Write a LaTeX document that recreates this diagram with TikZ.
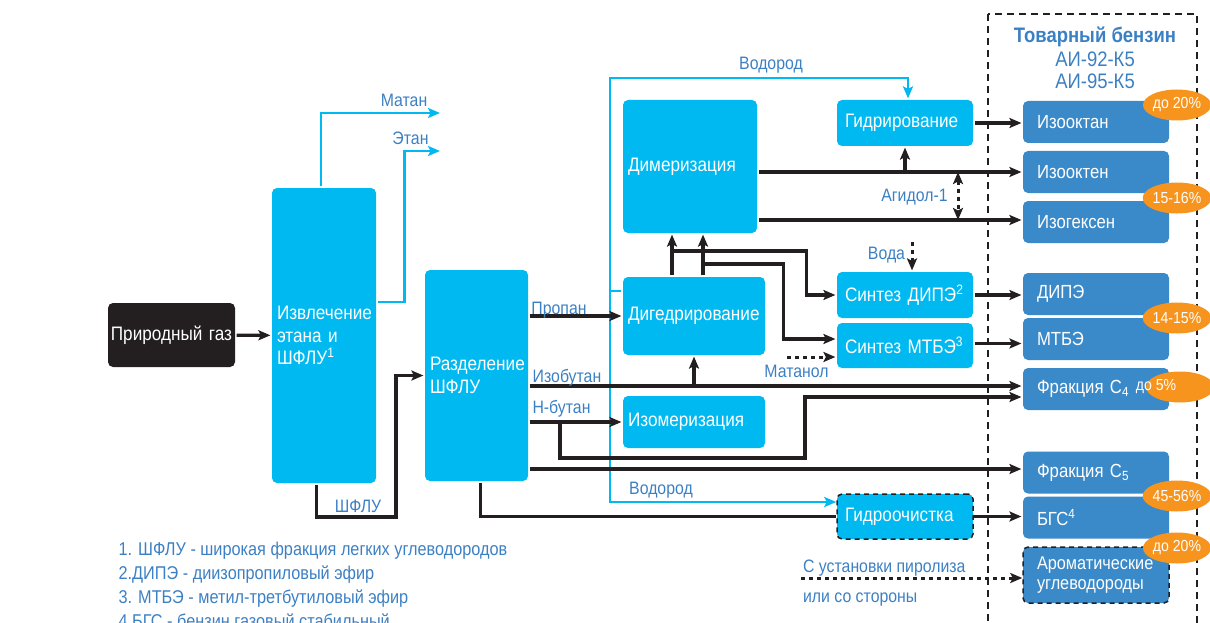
\documentclass[tikz,border=0pt]{standalone}
\usepackage{fontspec}
\setmainfont[FakeStretch=0.88]{Liberation Sans}
\usetikzlibrary{arrows.meta,shapes.geometric}
\definecolor{goluboy}{RGB}{0,185,241}
\definecolor{siniy}{RGB}{58,137,201}
\definecolor{tekst}{RGB}{60,128,196}
\definecolor{oranzh}{RGB}{247,148,29}
\definecolor{chern}{RGB}{35,31,32}

\begin{document}
\begin{tikzpicture}[x=1pt,y=-1pt,line width=3.2pt,>={Stealth[length=12pt,width=10pt,inset=2.5pt]}]
    \tikzset{etap/.style={fill=goluboy, rounded corners=5pt, text=white, align=left,
        inner xsep=5pt, inner ysep=0pt, font=\fontsize{19.5}{22.5}\selectfont}}
    \tikzset{produkt/.style={etap, fill=siniy, inner xsep=14pt, text width=118pt, minimum height=42pt,
        font=\fontsize{19}{21}\selectfont}}
    \tikzset{dolya/.style={ellipse, fill=oranzh, text=white, inner sep=0pt,
        minimum width=68pt, minimum height=31pt, font=\fontsize{16}{16}\selectfont}}
    \tikzset{podpis/.style={text=tekst, inner sep=0pt, anchor=base, font=\fontsize{18}{22}\selectfont}}
    \tikzset{potok/.style={draw=chern, ->}}
    \tikzset{liniya/.style={draw=chern}}
    \tikzset{vodorod/.style={draw=goluboy, line width=2.6pt}}
    \tikzset{vstrelka/.style={vodorod, ->}}
    \tikzset{punktir/.style={dash pattern=on 5pt off 4pt}}
    \useasboundingbox (0,0) rectangle (1210,623);

    % товарный бензин
    \draw[chern, line width=1.5pt, dash pattern=on 7pt off 5pt] (988,14) rectangle (1197,640);
    \node[podpis, font=\bfseries\fontsize{21}{24}\selectfont] (tovar) at (1095,43) {Товарный бензин};
    \node[podpis, font=\fontsize{21}{24}\selectfont] (ai92) at (1095,67) {АИ-92-К5};
    \node[podpis, font=\fontsize{21}{24}\selectfont] (ai95) at (1095,89) {АИ-95-К5};

    % установки
    \node[etap, fill=chern, align=center, inner xsep=1pt, text width=125pt, minimum height=64pt] (gaz) at (171.5,335) {Природный газ};
    \node[etap, text width=94pt, minimum height=295pt] (izvl) at (324,335.5) {Извлечение\\этана и\\ШФЛУ\textsuperscript{1}};
    \node[etap, text width=93pt, minimum height=211pt] (razd) at (476.5,375.5) {Разделение\\ШФЛУ};
    \node[etap, text width=124pt, minimum height=133pt] (dimer) at (690,166.5) {Димеризация};
    \node[etap, text width=132pt, minimum height=78pt] (diged) at (694,316) {Дигедрирование};
    \node[etap, text width=132pt, minimum height=52pt] (izomer) at (694,422) {Изомеризация};
    \node[etap, inner xsep=8pt, text width=120pt, minimum height=46pt] (gidr) at (905,123) {Гидрирование};
    \node[etap, inner xsep=8pt, text width=120pt, minimum height=46pt] (sdipe) at (905,295) {Синтез ДИПЭ\textsuperscript{2}};
    \node[etap, inner xsep=8pt, text width=120pt, minimum height=45pt] (smtbe) at (905,345.5) {Синтез МТБЭ\textsuperscript{3}};
    \node[etap, inner xsep=8pt, text width=120pt, minimum height=45pt, draw=chern, line width=1.5pt, punktir] (gochist) at (905,516.5) {Гидроочистка};

    % продукты
    \node[produkt] (izooktan) at (1096,122) {Изооктан};
    \node[produkt] (izookten) at (1096,172) {Изооктен};
    \node[produkt] (izogeks) at (1096,222) {Изогексен};
    \node[produkt] (pdipe) at (1096,294) {ДИПЭ};
    \node[produkt] (pmtbe) at (1096,339) {МТБЭ};
    \node[produkt] (fc4) at (1096,389) {Фракция C\textsubscript{4}};
    \node[produkt] (fc5) at (1096,472.5) {Фракция C\textsubscript{5}};
    \node[produkt] (bgs) at (1096,517.5) {БГС\textsuperscript{4}};
    \node[produkt, minimum height=56pt, font=\fontsize{18.5}{20}\selectfont, draw=chern, line width=1.5pt, punktir] (arom) at (1096,575) {Ароматические\\углеводороды};

    % доли
    \node[dolya] (d1) at (1177,105) {до 20\%};
    \node[dolya] (d2) at (1177,198) {15-16\%};
    \node[dolya] (d3) at (1177,318) {14-15\%};
    \node[dolya] (d4) at (1180,387) {};
    \node[text=white, inner sep=0pt, font=\fontsize{16}{16}\selectfont] (d4t) at (1156,387) {до 5\%};
    \node[dolya] (d5) at (1177,496) {45-56\%};
    \node[dolya] (d6) at (1177,548) {до 20\%};

    % точки
    \coordinate (metan) at (440,113);
    \coordinate (etan) at (440,151);
    \coordinate (h2) at (610,291);
    \coordinate (c4a) at ([yshift=3pt]fc4.west);
    \coordinate (c4b) at ([yshift=-8pt]fc4.west);
    \coordinate (c5a) at ([yshift=3.5pt]fc5.west);
    \coordinate (ig) at ([yshift=2pt]izogeks.west);
    \coordinate (m1) at ([yshift=6.5pt]smtbe.west);
    \coordinate (d1x) at ([xshift=-22pt]diged.north);
    \coordinate (d2x) at ([xshift=9pt]diged.north);
    \coordinate (nb) at (560,0 |- izomer.west);
    \coordinate (voda) at (912,242);
    \coordinate (metanol) at (787,357);
    \coordinate (piro) at (801,578);

    % водород, метан, этан
    \draw[vodorod] (diged.west |- h2) -- (h2);
    \draw[vstrelka] (h2) |- (908,78) -- (908,0 |- gidr.north);
    \draw[vstrelka] (h2) |- (gochist.west |- 0,502);
    \draw[vstrelka] ([xshift=-3pt]izvl.north) |- (metan);
    \draw[vstrelka] ([yshift=33.5pt]izvl.east) -| (404.5,151) -- (etan);

    % потоки
    \draw[potok] (gaz) -- (izvl);
    \draw[potok] ([xshift=-7.5pt]izvl.south) |- (396,517) |- (razd.west);
    \draw[potok] (razd.east |- diged.west) -- (diged.west);
    \draw[potok] (razd.east |- c4a) -- (c4a);
    \draw[potok] (razd.east |- izomer.west) -- (izomer.west);
    \draw[potok] (nb) |- (805,458) |- (c4b);
    \draw[potok] (razd.east |- c5a) -- (c5a);
    \draw[liniya] ([xshift=4pt]razd.south) |- (gochist.west);
    \draw[potok] (gochist.east) -- (gochist.east -| bgs.west);
    \draw[potok] (diged.south |- c4a) -- (diged.south);
    \draw[potok] (d1x) -- (d1x |- dimer.south);
    \draw[potok] (d2x) -- (d2x |- dimer.south);
    \draw[potok] (d1x |- 0,251) -| ([xshift=-29pt]sdipe.west) -- (sdipe.west);
    \draw[potok] (d2x |- 0,264) -| ([xshift=-52pt]m1) -- (m1);
    \draw[potok] (dimer.east |- izookten.west) -- (izookten.west);
    \draw[potok] (dimer.east |- ig) -- (ig);
    \draw[potok] (gidr.south |- izookten.west) -- (gidr.south);
    \draw[potok] (gidr.east) -- (gidr.east -| izooktan.west);
    \draw[potok] (sdipe.east) -- (sdipe.east -| pdipe.west);
    \draw[potok] ([yshift=2pt]smtbe.east) -- ([yshift=2pt]smtbe.east -| pmtbe.west);
    \draw[potok, line width=3pt, dash pattern=on 4pt off 4pt, <->] (958,0 |- izookten.west) -- (958,0 |- ig);
    \draw[potok, line width=3pt, dash pattern=on 4pt off 4pt] (voda) -- (voda |- sdipe.north);
    \draw[potok, line width=3pt, dash pattern=on 4pt off 4pt] (metanol) -- (metanol -| smtbe.west);
    \draw[potok, line width=3pt, dash pattern=on 4pt off 4pt] (piro) -- (piro -| arom.west);

    % подписи
    \node[podpis] (lmetan) at (404,107) {Матан};
    \node[podpis] (letan) at (410.5,145) {Этан};
    \node[podpis] (lshflu) at (358,512) {ШФЛУ};
    \node[podpis] (lpropan) at (559,314) {Пропан};
    \node[podpis] (lizobut) at (567,382) {Изобутан};
    \node[podpis] (lnbut) at (561.5,413) {Н-бутан};
    \node[podpis] (lh2a) at (771,70) {Водород};
    \node[podpis] (lh2b) at (661,494) {Водород};
    \node[podpis] (lagidol) at (914.5,201) {Агидол-1};
    \node[podpis] (lvoda) at (886.5,259) {Вода};
    \node[podpis] (lmetanol) at (796.5,377) {Матанол};
    \node[podpis, anchor=base west] (lpiro1) at (801.5,572) {С установки пиролиза};
    \node[podpis, anchor=base west] (lpiro2) at (801.5,602) {или со стороны};

    % сноски
    \node[podpis, anchor=base west, font=\fontsize{18.5}{22}\selectfont] (sn1) at (117,555) {1. ШФЛУ - широкая фракция легких углеводородов};
    \node[podpis, anchor=base west, font=\fontsize{18.5}{22}\selectfont] (sn2) at (117,579) {2.ДИПЭ - диизопропиловый эфир};
    \node[podpis, anchor=base west, font=\fontsize{18.5}{22}\selectfont] (sn3) at (117,603) {3. МТБЭ - метил-третбутиловый эфир};
    \node[podpis, anchor=base west, font=\fontsize{18.5}{22}\selectfont] (sn4) at (117,627) {4.БГС - бензин газовый стабильный};
\end{tikzpicture}
\end{document}
